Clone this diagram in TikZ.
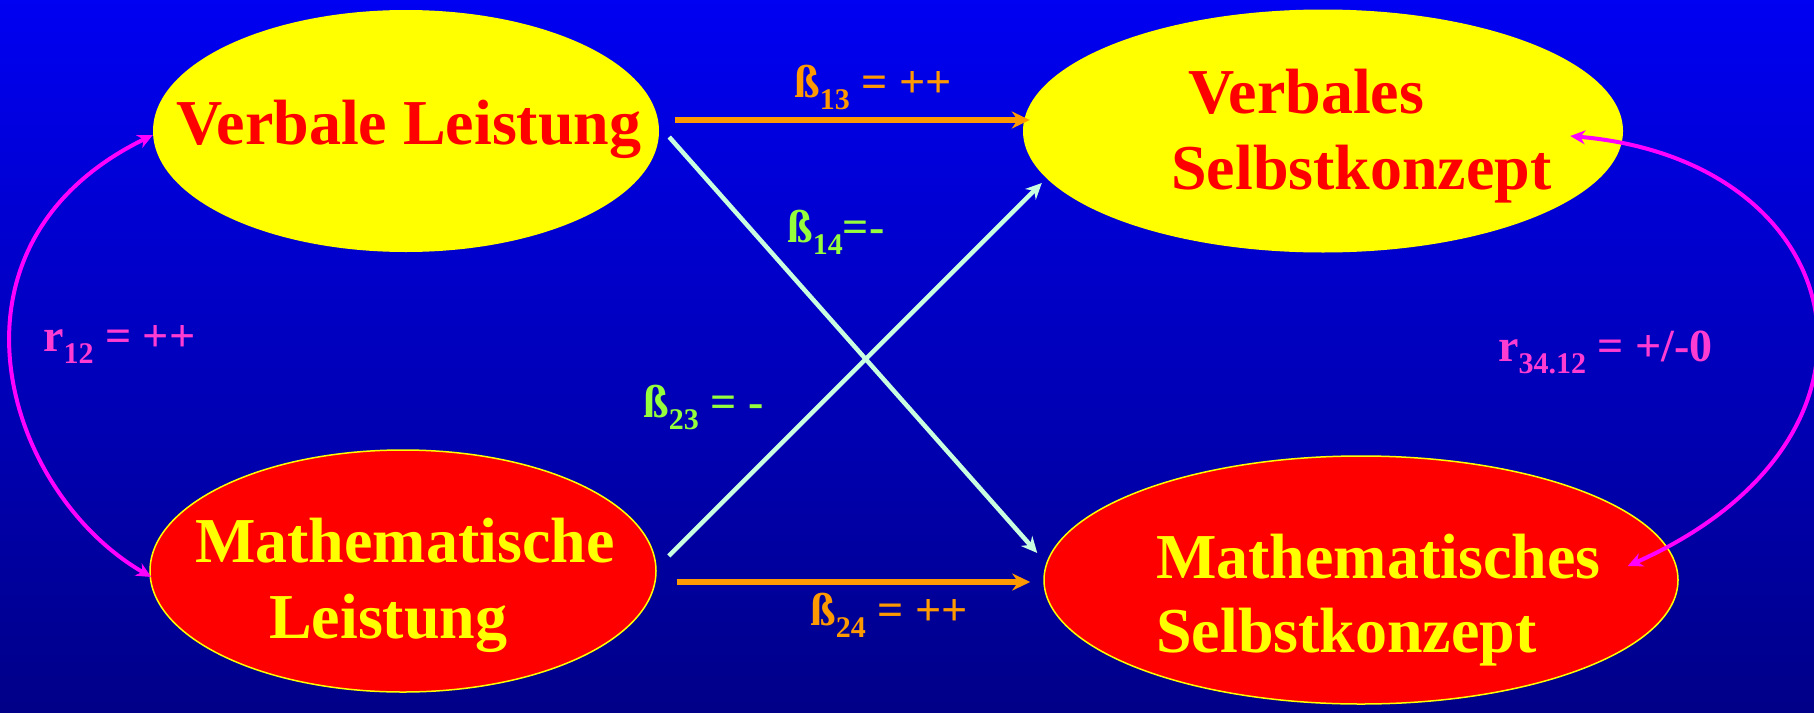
\documentclass[tikz,border=0pt]{standalone}
\usepackage{fontspec}
\setmainfont{Liberation Serif}
\usetikzlibrary{shapes.geometric,arrows.meta}
\definecolor{bgtop}{RGB}{0,0,242}
\definecolor{bgbot}{RGB}{0,0,136}
\definecolor{ored}{RGB}{255,0,0}
\definecolor{oyel}{RGB}{255,255,0}
\definecolor{borange}{RGB}{255,153,0}
\definecolor{bmint}{RGB}{200,255,225}
\definecolor{bgreen}{RGB}{150,255,60}
\definecolor{rmag}{RGB}{255,0,255}
\definecolor{rpink}{RGB}{255,60,210}
\newcommand{\bigtxt}{\fontsize{64}{64}\selectfont\bfseries}
\newcommand{\lbltxt}{\fontsize{46}{46}\selectfont\bfseries}
\newcommand{\sbx}[1]{\raisebox{-12pt}{\fontsize{30}{30}\selectfont #1}}
\begin{document}
\begin{tikzpicture}[x=1pt,y=1pt,
  ell/.style={ellipse, inner sep=0pt},
  yellell/.style={ell, fill=oyel},
  redell/.style={ell, fill=ored, draw=oyel, line width=1.5pt},
  txt/.style={anchor=base west, inner sep=0pt},
  oarr/.style={draw=borange, line width=5.5pt, -{Stealth[length=18pt,width=17pt]}},
  marr/.style={draw=bmint, line width=4.5pt, -{Stealth[length=16pt,width=15pt]}},
  rarr/.style={draw=rmag, line width=4pt, {Stealth[length=15pt,width=14pt]}-{Stealth[length=15pt,width=14pt]}}
]
\useasboundingbox (0,0) rectangle (1814,-712);
\shade[top color=bgtop, bottom color=bgbot] (0,0) rectangle (1814,-712);

% ellipses
\node[yellell, minimum width=506pt, minimum height=242pt] (vl) at (406,-131) {};
\node[redell, minimum width=506pt, minimum height=242pt] (ml) at (403,-571) {};
\node[yellell, minimum width=600pt, minimum height=243pt] (vs) at (1323,-131) {};
\node[redell, minimum width=634pt, minimum height=248pt] (ms) at (1361,-580) {};

% texts
\node[txt, text=ored] (vlt) at (176,-144) {\bigtxt Verbale Leistung};
\node[txt, text=oyel] (mlt1) at (195,-562) {\bigtxt Mathematische};
\node[txt, text=oyel] (mlt2) at (269,-638) {\bigtxt Leistung};
\node[txt, text=ored] (vst1) at (1188,-113) {\bigtxt Verbales};
\node[txt, text=ored] (vst2) at (1171,-189) {\bigtxt Selbstkonzept};
\node[txt, text=oyel] (mst1) at (1156,-578) {\bigtxt Mathematisches};
\node[txt, text=oyel] (mst2) at (1156,-652) {\bigtxt Selbstkonzept};

% connectors
\draw[marr] ([xshift=10pt,yshift=-6pt]vl.east) -- ([xshift=-6pt,yshift=27pt]ms.west);
\draw[marr] ([xshift=12pt,yshift=15pt]ml.east) -- ([xshift=19pt,yshift=-52pt]vs.west);
\draw[oarr] ([xshift=16pt,yshift=11pt]vl.east) -- ([xshift=7pt,yshift=11pt]vs.west);
\draw[oarr] ([xshift=20pt,yshift=-11pt]ml.east) -- ([xshift=-13pt,yshift=-2pt]ms.west);
\draw[rarr] ([yshift=-4pt]vl.west) .. controls +(206:250) and +(150:170) .. ([xshift=2pt,yshift=-6pt]ml.west);
\draw[rarr] ([xshift=-53pt,yshift=-5pt]vs.east) .. controls +(-5:285) and +(24:315) .. ([xshift=-51pt,yshift=14pt]ms.east);

% labels
\node[txt, text=borange] (b13) at (794,-97) {\lbltxt ß\sbx{13} = ++};
\node[txt, text=bgreen] (b14) at (787,-242) {\lbltxt ß\sbx{14}=-};
\node[txt, text=bgreen] (b23) at (643,-417) {\lbltxt ß\sbx{23} = -};
\node[txt, text=borange] (b24) at (810,-625) {\lbltxt ß\sbx{24} = ++};
\node[txt, text=rpink] (r12) at (43,-351) {\lbltxt r\sbx{12} = ++};
\node[txt, text=rpink] (r34) at (1498,-361) {\lbltxt r\sbx{34.12} = +/-0};
\end{tikzpicture}
\end{document}
